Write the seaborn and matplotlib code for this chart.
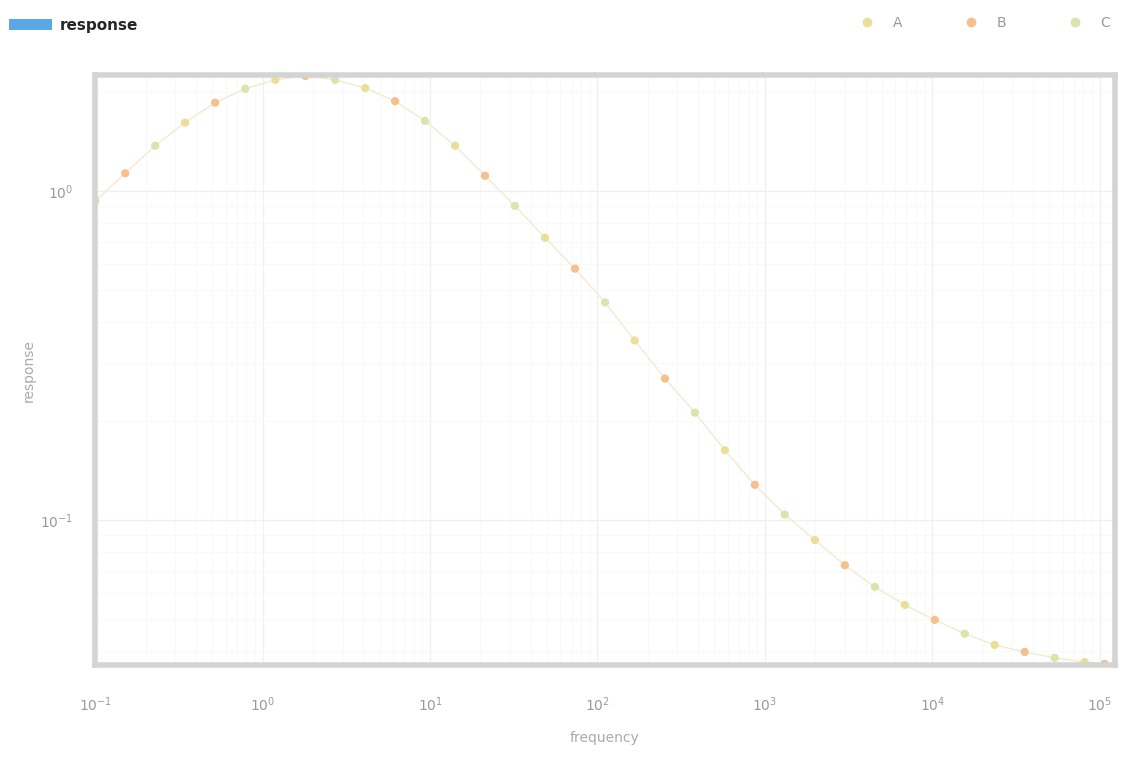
import matplotlib
matplotlib.use("Agg")
import matplotlib.pyplot as plt
import seaborn as sns
import pandas as pd
from matplotlib.patches import Patch
from matplotlib.lines import Line2D
from matplotlib.ticker import NullFormatter

frequency = [0.1, 0.151, 0.228, 0.344, 0.52, 0.787, 1.19, 1.80, 2.71, 4.10, 6.18, 9.33,
             14.1, 21.3, 32.1, 48.6, 73.4, 111, 167, 253, 382, 577, 871, 1315, 1990,
             3005, 4540, 6855, 10350, 15630, 23600, 35650, 53830, 81280, 107000]
response = [0.93, 1.13, 1.37, 1.61, 1.85, 2.04, 2.17, 2.23, 2.17, 2.05, 1.87, 1.63,
            1.37, 1.11, 0.90, 0.72, 0.58, 0.458, 0.351, 0.269, 0.212, 0.163, 0.128, 0.104, 0.087,
            0.073, 0.0627, 0.0553, 0.0498, 0.0452, 0.0418, 0.0398, 0.0382, 0.0371, 0.0366]
group = ["A", "B", "C"] * 11 + ["A", "B"]
group_names = ["A", "B", "C"]
group_colors = ["#eadf9a", "#f5bf8e", "#d6e6ad"]

df = pd.DataFrame({"frequency": frequency, "response": response, "group": group})

sns.set_theme(style="whitegrid")
plt.rcParams['font.family'] = ['DejaVu Sans']

fig = plt.figure(figsize=(11.34, 7.61), dpi=100)
ax = fig.add_axes([0.084, 0.126, 0.899, 0.775])

sns.lineplot(data=df, x="frequency", y="response", ax=ax, color="#f3ead0", lw=1.0,
             zorder=1, legend=False)
sns.scatterplot(data=df, x="frequency", y="response", hue="group", hue_order=group_names,
                palette=group_colors, s=35, edgecolor="none", ax=ax, zorder=2, legend=False)

ax.set_xscale("log")
ax.set_yscale("log")
ax.set_xlim(0.1, 1.23e5)
ax.set_ylim(0.0363, 2.24)
ax.xaxis.set_minor_formatter(NullFormatter())
ax.yaxis.set_minor_formatter(NullFormatter())
ax.grid(True, which="major", color="#f0f0f0", lw=1)
ax.grid(True, which="minor", color="#f8f8f8", lw=0.6)
for s in ax.spines.values():
    s.set_visible(True)
    s.set_color("#d4d4d4")
    s.set_linewidth(4)
ax.tick_params(axis="both", which="both", colors="#cccccc", labelcolor="#9a9a9a",
               labelsize=10, length=4, width=1, direction="in")
ax.tick_params(axis="x", which="major", pad=22)
ax.tick_params(axis="y", which="major", pad=16)
ax.set_xlabel("frequency", color="#aaaaaa", fontsize=10, labelpad=12)
ax.set_ylabel("response", color="#aaaaaa", fontsize=10)
ax.yaxis.set_label_coords(-0.058, 0.5)

h1 = [Patch(facecolor="#5aa9e6", edgecolor="none", label="response")]
fig.legend(handles=h1, loc="upper left", bbox_to_anchor=(-0.004, 0.995), frameon=False,
           handlelength=2.8, handletextpad=0.5,
           prop={"weight": "bold", "size": 11})
h2 = [Line2D([], [], marker="o", ls="none", color=c, markersize=6, label=n)
      for n, c in zip(group_names, group_colors)]
fig.legend(handles=h2, loc="upper right", bbox_to_anchor=(0.99, 0.995), ncol=3,
           frameon=False, fontsize=10, columnspacing=4, labelcolor="#999999")

fig.savefig("out.png", dpi=100)
